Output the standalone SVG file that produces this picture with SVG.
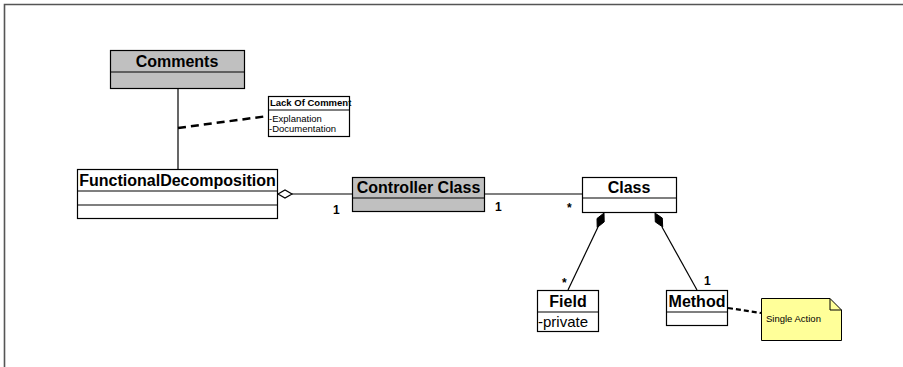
<svg xmlns="http://www.w3.org/2000/svg" width="903" height="367" viewBox="0 0 903 367">
  <style>
    .box { stroke: #000; stroke-width: 1.2; }
    .plain { fill: #fff; }
    .shade { fill: #c0c0c0; }
    .title { font-family: "Liberation Sans", Arial, sans-serif; font-weight: bold; font-size: 16px; fill: #000; text-anchor: middle; }
    .attr { font-family: "Liberation Sans", Arial, sans-serif; font-size: 15px; fill: #000; }
    .small { font-family: "Liberation Sans", Arial, sans-serif; font-size: 9.5px; fill: #000; }
    .mult { font-family: "Liberation Sans", Arial, sans-serif; font-weight: bold; font-size: 12px; fill: #000; }
    .link { stroke: #000; stroke-width: 1.2; fill: none; }
    .dash { stroke: #000; stroke-width: 2.5; fill: none; stroke-dasharray: 8 5; }
  </style>
  <rect width="903" height="367" fill="#fff"/>
  <!-- frame: only top and left edges are visible -->
  <path d="M4.5 367 V4.5 H903" fill="none" stroke="#555" stroke-width="1.6"/>

  <g id="connectors">
    <line class="link" x1="178" y1="88" x2="178" y2="169"/>
    <line class="dash" x1="178" y1="128" x2="268" y2="116"/>
    <line class="link" x1="292" y1="194" x2="352" y2="194"/>
    <polygon points="278,194 285,190 292,194 285,198" fill="#fff" stroke="#000" stroke-width="1.2"/>
    <line class="link" x1="485" y1="194" x2="582" y2="194"/>
    <line class="link" x1="598" y1="227" x2="568" y2="290"/>
    <polygon points="604,213 604.2,221.9 597.2,227.5 597,218.5" fill="#000" stroke="#000" stroke-width="1"/>
    <line class="link" x1="662" y1="227" x2="697" y2="290"/>
    <polygon points="655,213 662.3,218.1 662.7,227 655.3,221.9" fill="#000" stroke="#000" stroke-width="1"/>
    <line x1="728" y1="308" x2="761" y2="313" stroke="#000" stroke-width="2.2" stroke-dasharray="5 3"/>
    <text class="mult" x="333" y="214">1</text>
    <text class="mult" x="495" y="211">1</text>
    <text class="mult" x="567" y="212">*</text>
    <text class="mult" x="562" y="287">*</text>
    <text class="mult" x="704" y="285">1</text>
  </g>

  <g id="comments">
    <rect class="box shade" x="110.5" y="50.5" width="134" height="38"/>
    <line class="box" x1="110.5" y1="72" x2="244.5" y2="72"/>
    <text class="title" x="177" y="67">Comments</text>
  </g>

  <g id="lack-of-comment">
    <rect class="box plain" x="268.5" y="96.5" width="81" height="40" stroke-width="1"/>
    <line class="box" x1="268.5" y1="110" x2="349.5" y2="110" stroke-width="1"/>
    <text class="small" x="270" y="105.5" font-size="8.6" font-weight="bold">Lack Of Comment</text>
    <text class="small" x="269" y="121.5">-Explanation</text>
    <text class="small" x="269" y="131.5">-Documentation</text>
  </g>

  <g id="functional-decomposition">
    <rect class="box plain" x="77.5" y="169.5" width="200" height="49"/>
    <line class="box" x1="77.5" y1="191" x2="277.5" y2="191"/>
    <line class="box" x1="77.5" y1="205" x2="277.5" y2="205"/>
    <text class="title" x="177.5" y="185.5">FunctionalDecomposition</text>
  </g>

  <g id="controller-class">
    <rect class="box shade" x="352.5" y="177.5" width="132" height="34"/>
    <line class="box" x1="352.5" y1="198" x2="484.5" y2="198"/>
    <text class="title" x="418.5" y="192.5">Controller Class</text>
  </g>

  <g id="class">
    <rect class="box plain" x="582.5" y="177.5" width="94" height="35"/>
    <line class="box" x1="582.5" y1="198" x2="676.5" y2="198"/>
    <text class="title" x="629" y="192.5">Class</text>
  </g>

  <g id="field">
    <rect class="box plain" x="537.5" y="290.5" width="61" height="41"/>
    <line class="box" x1="537.5" y1="312" x2="598.5" y2="312"/>
    <text class="title" x="568" y="306.5">Field</text>
    <text class="attr" x="538" y="326.5">-private</text>
  </g>

  <g id="method">
    <rect class="box plain" x="666.5" y="290.5" width="61" height="35"/>
    <line class="box" x1="666.5" y1="312" x2="727.5" y2="312"/>
    <text class="title" x="697" y="306.5">Method</text>
  </g>

  <g id="single-action-note">
    <path d="M761.5 298.5 H830 L841.5 310 V340.5 H761.5 Z" fill="#ffff99" stroke="#000" stroke-width="1"/>
    <path d="M830 298.5 V310 H841.5" fill="none" stroke="#000" stroke-width="1"/>
    <text class="small" x="766" y="321.5" font-size="10.5">Single Action</text>
  </g>
</svg>
